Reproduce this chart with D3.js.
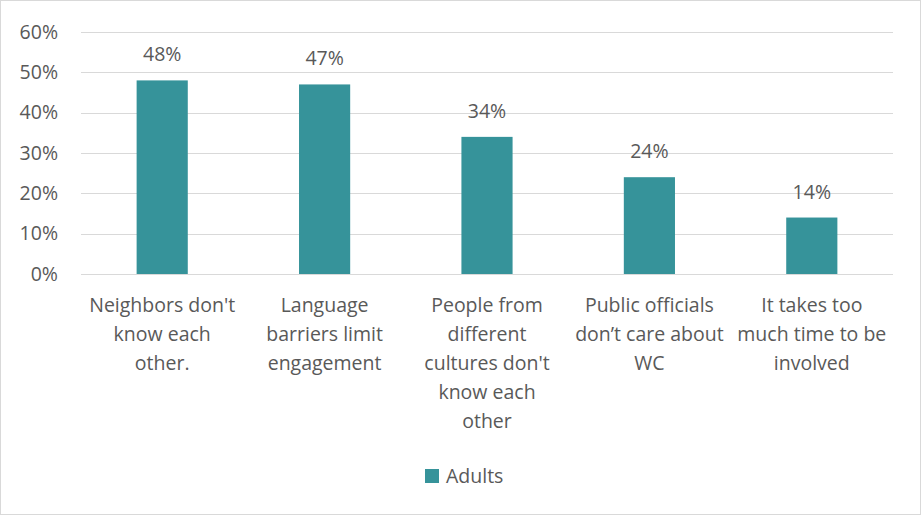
<!DOCTYPE html>
<html>
<head>
<meta charset="utf-8">
<script src="https://cdn.jsdelivr.net/npm/d3@7"></script>
<style>
  html, body { margin: 0; padding: 0; background: #fff; }
  svg text { font-family: "Open Sans", Lato, sans-serif; fill: #595959; }
</style>
</head>
<body>
<svg id="chart" width="921" height="515"></svg>
<script>
// Barriers to community engagement, share of adults
const categories = [
  ["Neighbors don't", "know each", "other."],
  ["Language", "barriers limit", "engagement"],
  ["People from", "different", "cultures don't", "know each", "other"],
  ["Public officials", "don\u2019t care about", "WC"],
  ["It takes too", "much time to be", "involved"]
];
const adults = [0.48, 0.47, 0.34, 0.24, 0.14];
const yTicks = [0, 0.1, 0.2, 0.3, 0.4, 0.5, 0.6];
const seriesName = "Adults";

const W = 921, H = 515;
const margin = { left: 81, right: 28, top: 32, bottom: 241 };
const color = "#36939a";
const font = "'Open Sans', Lato, sans-serif";

const svg = d3.select("#chart");

// outer frame
svg.append("rect")
  .attr("x", 0.5).attr("y", 0.5)
  .attr("width", W - 1).attr("height", H - 1)
  .attr("fill", "#fff").attr("stroke", "#d9d9d9");

const x = d3.scaleBand()
  .domain(d3.range(categories.length))
  .range([margin.left, W - margin.right])
  .paddingInner(0.685).paddingOuter(0.3425);

const y = d3.scaleLinear()
  .domain([0, 0.6])
  .range([H - margin.bottom, margin.top]);

// gridlines
svg.append("g")
  .selectAll("line")
  .data(yTicks)
  .join("line")
  .attr("x1", margin.left).attr("x2", W - margin.right)
  .attr("y1", d => Math.round(y(d)) + 0.5)
  .attr("y2", d => Math.round(y(d)) + 0.5)
  .attr("stroke", "#d9d9d9").attr("stroke-width", 1);

// y axis labels
const yAxis = d3.axisLeft(y)
  .tickValues(yTicks)
  .tickFormat(d3.format(".0%"))
  .tickSize(0)
  .tickPadding(23);
const gy = svg.append("g")
  .attr("transform", `translate(${margin.left},0)`)
  .call(yAxis);
gy.select(".domain").remove();
gy.selectAll("text")
  .attr("font-size", 19.5)
  .style("font-family", font)
  .attr("fill", "#595959");

// bars
svg.append("g")
  .selectAll("rect")
  .data(adults)
  .join("rect")
  .attr("x", (d, i) => x(i))
  .attr("width", x.bandwidth())
  .attr("y", d => y(d))
  .attr("height", d => y(0) - y(d))
  .attr("fill", color);

// value labels
svg.append("g")
  .selectAll("text")
  .data(adults)
  .join("text")
  .attr("x", (d, i) => x(i) + x.bandwidth() / 2)
  .attr("y", d => y(d) - 19)
  .attr("text-anchor", "middle")
  .attr("font-size", 19.5)
  .text(d => d3.format(".0%")(d));

// category labels (multi-line)
const catG = svg.append("g")
  .selectAll("text")
  .data(categories)
  .join("text")
  .attr("text-anchor", "middle")
  .attr("font-size", 19.5)
  .attr("x", (d, i) => x(i) + x.bandwidth() / 2)
  .attr("y", y(0) + 38);
catG.selectAll("tspan")
  .data((d, i) => d.map(line => ({ line, i })))
  .join("tspan")
  .attr("x", d => x(d.i) + x.bandwidth() / 2)
  .attr("dy", (d, j) => j === 0 ? 0 : 29)
  .text(d => d.line);

// legend
const legend = svg.append("g").attr("transform", "translate(425,469)");
legend.append("rect")
  .attr("width", 14).attr("height", 14)
  .attr("fill", color);
legend.append("text")
  .attr("x", 21).attr("y", 14)
  .attr("font-size", 19.5)
  .text(seriesName);
</script>
</body>
</html>
